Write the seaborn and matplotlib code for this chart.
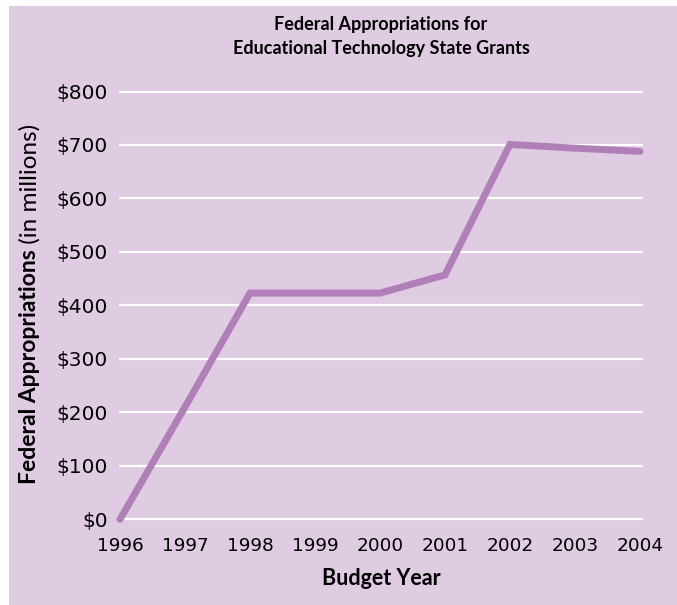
import matplotlib
matplotlib.use("Agg")
import matplotlib.pyplot as plt
import seaborn as sns
import pandas as pd
from matplotlib.patches import Rectangle

years = [1996, 1997, 1998, 1999, 2000, 2001, 2002, 2003, 2004]
appropriations = [0, 210, 423, 423, 423, 457, 701, 694, 688]
y_ticks = [0, 100, 200, 300, 400, 500, 600, 700, 800]
y_tick_labels = ["$0", "$100", "$200", "$300", "$400", "$500", "$600", "$700", "$800"]

df = pd.DataFrame({"year": years, "value": appropriations})

sns.set_theme(style="white")
plt.rcParams["font.family"] = ["Lato", "DejaVu Sans"]
plt.rcParams["text.color"] = "black"

BG = "#dfcbe2"
LINE = "#b07fb8"

W, H = 677, 605
fig = plt.figure(figsize=(W / 100, H / 100), dpi=100, facecolor="white")
bg = Rectangle((9 / W, 0), 1 - 9 / W, 1 - 6 / H, transform=fig.transFigure,
               facecolor=BG, edgecolor="none", zorder=-10)
fig.patches.append(bg)

ylo, yhi = -10, 810
px_per = (519.3 - 91.5) / 800
bottom_px = 519.3 + (0 - ylo) * px_per
top_px = 91.5 - (yhi - 800) * px_per
x_left, x_right = 120, 640
ax = fig.add_axes([x_left / W, (H - bottom_px) / H, (x_right - x_left) / W, (bottom_px - top_px) / H])
ax.set_zorder(1)
ax.patch.set_alpha(0)

for yv in y_ticks:
    ax.axhline(yv, xmin=0, xmax=1.004, color="white", lw=1.6, zorder=1, clip_on=False)

sns.lineplot(data=df, x="year", y="value", ax=ax, color=LINE, lw=5,
             solid_capstyle="round", solid_joinstyle="miter", zorder=3, clip_on=False)

ax.set_xlim(1996, 2004)
ax.set_ylim(ylo, yhi)
ax.set_xticks(years)
ax.set_xticklabels([str(y) for y in years], fontfamily="DejaVu Sans", fontsize=13.3)
ax.set_yticks(y_ticks)
ax.set_yticklabels(y_tick_labels, fontfamily="DejaVu Sans", fontsize=14.5)
ax.tick_params(axis="both", length=0, colors="black")
ax.tick_params(axis="y", pad=9)
ax.tick_params(axis="x", pad=9)
for s in ax.spines.values():
    s.set_visible(False)
ax.grid(False)
ax.set_xlabel("")
ax.set_ylabel("")

cx = (120 + 642) / 2
fig.text(cx / W, 1 - 30 / H, "Federal Appropriations for",
         ha="center", va="baseline", fontsize=13, fontweight="bold")
fig.text(cx / W, 1 - 54 / H, "Educational Technology State Grants",
         ha="center", va="baseline", fontsize=13, fontweight="bold")
fig.text(cx / W, 1 - 585 / H, "Budget Year", ha="center", va="baseline",
         fontsize=15.5, fontweight="bold")

t1 = fig.text(30 / W, 0.5, "Federal Appropriations", rotation=90, ha="center", va="bottom",
              fontsize=16.5, fontweight="bold")
t2 = fig.text(30 / W, 0.5, " (in millions)", rotation=90, ha="center", va="bottom",
              fontsize=17.5, fontweight="normal")
fig.canvas.draw()
r = fig.canvas.get_renderer()
b1 = t1.get_window_extent(r)
b2 = t2.get_window_extent(r)
total = b1.height + b2.height
center_px = H - 304
start = center_px - total / 2
t1.set_position((30 / W, start / H))
t2.set_position((30 / W, (start + b1.height) / H))

fig.savefig("out.png", dpi=100, facecolor="white")
